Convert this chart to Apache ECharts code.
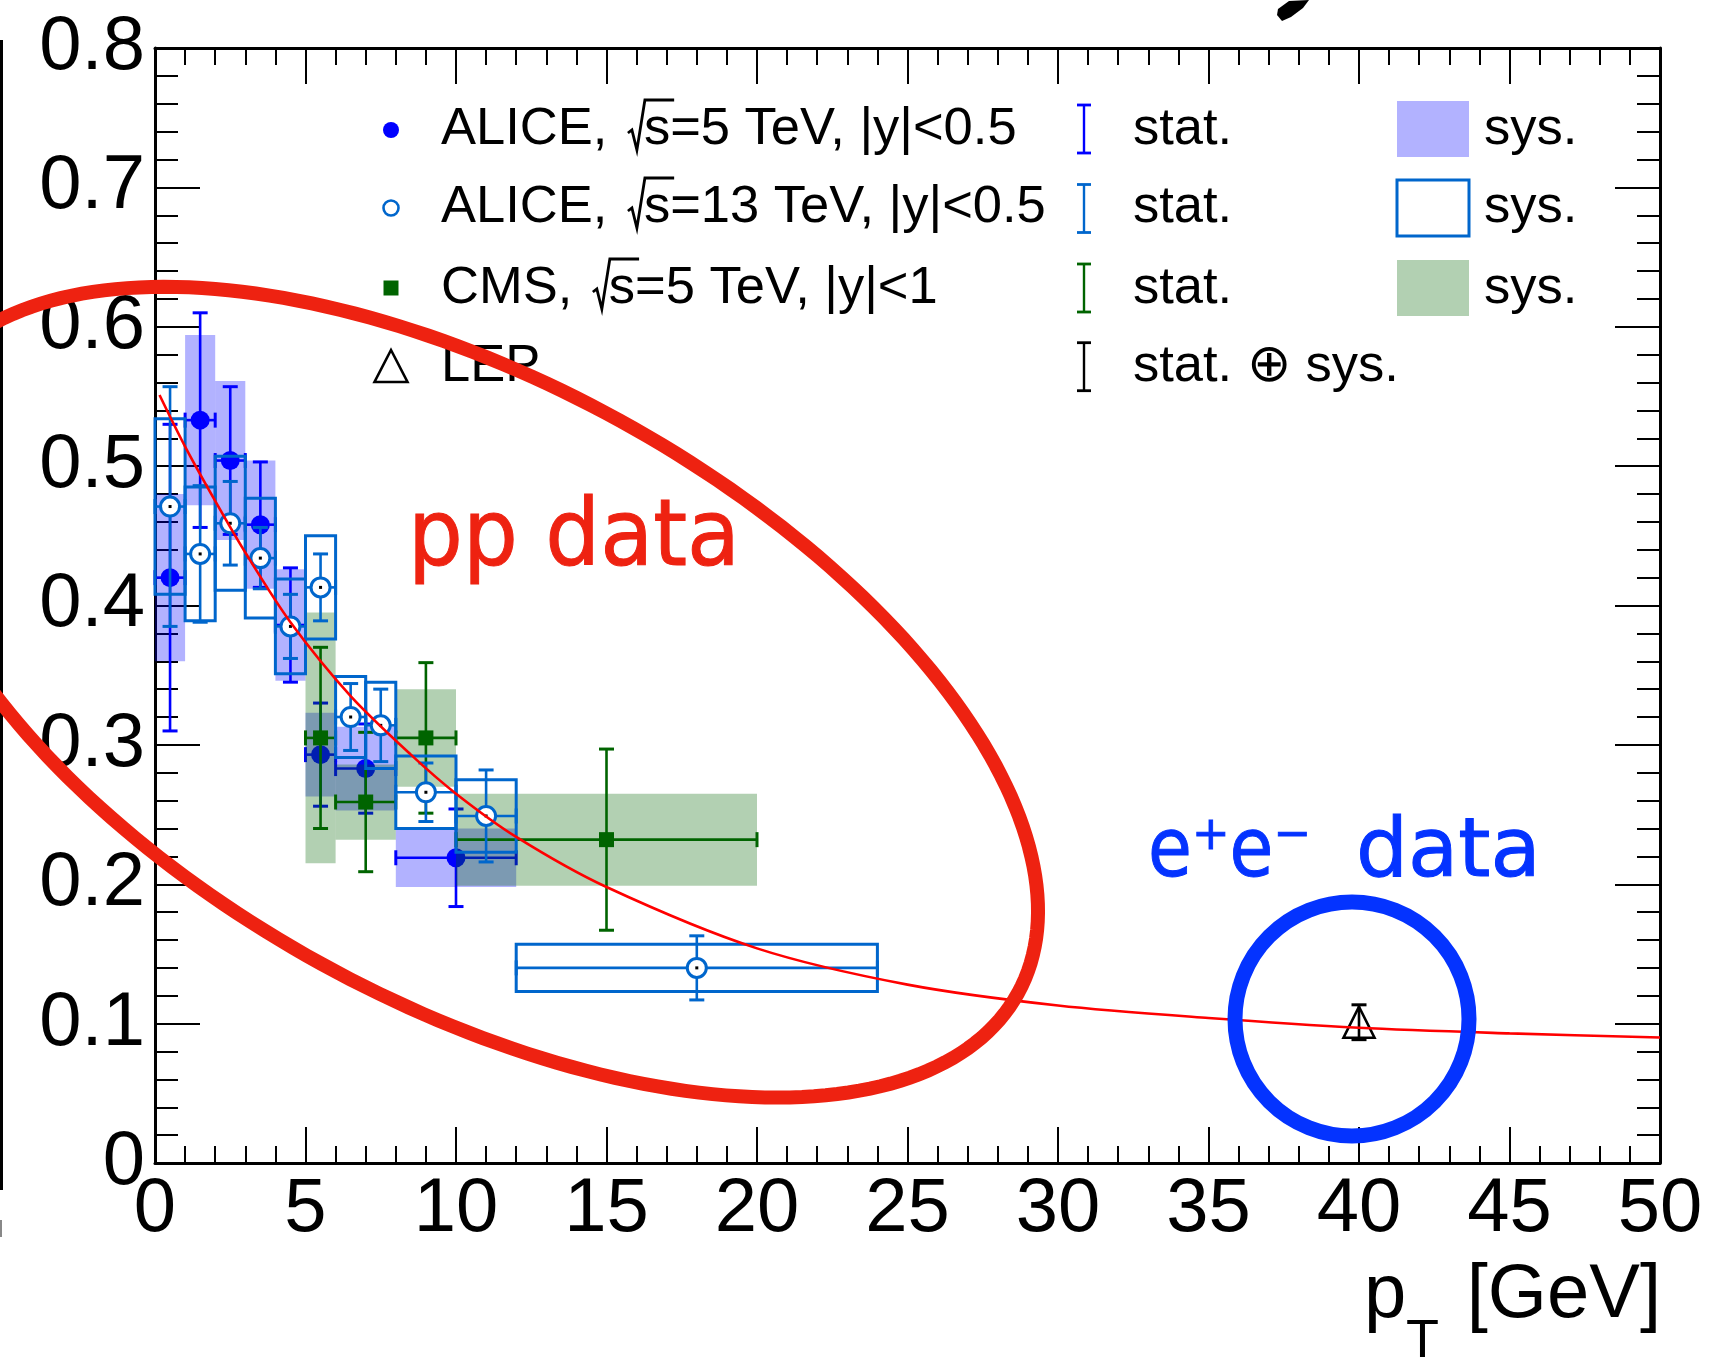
<!DOCTYPE html>
<html>
<head>
<meta charset="utf-8">
<script src="https://cdn.jsdelivr.net/npm/echarts@6/dist/echarts.min.js"></script>
<style>
html, body { margin: 0; padding: 0; background: #fff; }
#chart { width: 1716px; height: 1369px; }
</style>
</head>
<body>
<div id="chart"></div>
<script>
// ALICE, sqrt(s) = 5 TeV, |y| < 0.5
const alice5Pt   = [0.5, 1.5, 2.5, 3.5, 4.5, 5.5, 7, 10];
const alice5Bins = [0, 1, 2, 3, 4, 5, 6, 8, 12];
const alice5Val  = [0.420, 0.533, 0.504, 0.458, 0.386, 0.293, 0.283, 0.219];
const alice5Stat = [0.110, 0.077, 0.053, 0.045, 0.041, 0.037, 0.032, 0.035];
const alice5Sys  = [0.060, 0.061, 0.057, 0.046, 0.040, 0.030, 0.030, 0.021];

// ALICE, sqrt(s) = 13 TeV, |y| < 0.5
const alice13Pt   = [0.5, 1.5, 2.5, 3.5, 4.5, 5.5, 6.5, 7.5, 9, 11, 18];
const alice13Bins = [0, 1, 2, 3, 4, 5, 6, 7, 8, 10, 12, 24];
const alice13Val  = [0.471, 0.437, 0.459, 0.434, 0.385, 0.413, 0.320, 0.314, 0.266, 0.249, 0.140];
const alice13Stat = [0.086, 0.049, 0.030, 0.022, 0.023, 0.024, 0.024, 0.026, 0.021, 0.033, 0.023];
const alice13Sys  = [0.063, 0.048, 0.048, 0.043, 0.034, 0.037, 0.029, 0.031, 0.026, 0.026, 0.017];

// CMS, sqrt(s) = 5 TeV, |y| < 1
const cmsPt   = [5.5, 7, 9, 15];
const cmsBins = [5, 6, 8, 10, 20];
const cmsVal  = [0.305, 0.259, 0.305, 0.232];
const cmsStat = [0.065, 0.050, 0.054, 0.065];
const cmsSys  = [0.090, 0.027, 0.035, 0.033];

// LEP (e+e-), stat (+) sys combined
const lepPt  = [40];
const lepVal = [0.101];
const lepErr = [0.0125];

// Fit curve through the pp data
const fitPt  = [0.15, 1, 2, 3, 4.5, 6.5, 8.5, 10, 12, 15, 20, 25, 30, 35, 40, 45, 50];
const fitVal = [0.551, 0.514, 0.475, 0.438, 0.388, 0.335, 0.293, 0.265, 0.234, 0.198, 0.154, 0.128, 0.113, 0.104, 0.097, 0.093, 0.090];

// Axis ticks
const xTicks = { min: 0, max: 50, interval: 5 };
const yTicks = { min: 0, max: 0.8, interval: 0.1 };

const FONT = '"Liberation Sans", Arial, Helvetica, sans-serif';
const HAND = '"DejaVu Sans", sans-serif';
const C5 = '#0000ff', C13 = '#0066cc', CCMS = '#006400';

function rows(pt, bins, val, stat, sys) {
  return pt.map((p, i) => [p, val[i], bins[i], bins[i + 1], stat[i], sys[i]]);
}

function boxRender(style) {
  return function (params, api) {
    const y = api.value(1), s = api.value(5);
    const p0 = api.coord([api.value(2), y + s]);
    const p1 = api.coord([api.value(3), y - s]);
    return {
      type: 'rect',
      shape: { x: p0[0], y: p0[1], width: p1[0] - p0[0], height: p1[1] - p0[1] },
      style: style
    };
  };
}

function ln(x1, y1, x2, y2, color, w) {
  return { type: 'line', shape: { x1, y1, x2, y2 }, style: { stroke: color, lineWidth: w } };
}

function pointRender(color, marker, withX) {
  return function (params, api) {
    const x = api.value(0), y = api.value(1), st = api.value(4);
    const c = api.coord([x, y]);
    const t = api.coord([x, y + st]);
    const b = api.coord([x, y - st]);
    const cap = 7.5, w = 2.6;
    const ch = [
      ln(t[0], t[1], b[0], b[1], color, w),
      ln(t[0] - cap, t[1], t[0] + cap, t[1], color, w + 0.4),
      ln(b[0] - cap, b[1], b[0] + cap, b[1], color, w + 0.4)
    ];
    if (withX) {
      const l = api.coord([api.value(2), y]);
      const r = api.coord([api.value(3), y]);
      ch.push(ln(l[0], l[1], r[0], r[1], color, w));
      ch.push(ln(l[0], l[1] - cap, l[0], l[1] + cap, color, w + 0.4));
      ch.push(ln(r[0], r[1] - cap, r[0], r[1] + cap, color, w + 0.4));
    }
    marker(c, color).forEach(m => ch.push(m));
    return { type: 'group', children: ch };
  };
}

const filledCircle = (c, color) => [{ type: 'circle', shape: { cx: c[0], cy: c[1], r: 9.5 }, style: { fill: color } }];
const openCircle = (c, color) => [
  { type: 'circle', shape: { cx: c[0], cy: c[1], r: 9.5 }, style: { fill: '#fff', stroke: color, lineWidth: 3 } },
  { type: 'rect', shape: { x: c[0] - 1.5, y: c[1] - 1.5, width: 3, height: 3 }, style: { fill: '#000' } }
];
const filledSquare = (c, color) => [{ type: 'rect', shape: { x: c[0] - 7.5, y: c[1] - 7.5, width: 15, height: 15 }, style: { fill: color } }];
const openTriangle = (c) => [{
  type: 'polygon',
  shape: { points: [[c[0], c[1] - 15.5], [c[0] + 15.5, c[1] + 15.5], [c[0] - 15.5, c[1] + 15.5]] },
  style: { fill: 'none', stroke: '#000', lineWidth: 2.6 }
}];

const alice5Rows  = rows(alice5Pt, alice5Bins, alice5Val, alice5Stat, alice5Sys);
const alice13Rows = rows(alice13Pt, alice13Bins, alice13Val, alice13Stat, alice13Sys);
const cmsRows     = rows(cmsPt, cmsBins, cmsVal, cmsStat, cmsSys);
const lepRows     = lepPt.map((p, i) => [p, lepVal[i], p, p, lepErr[i], 0]);

function custom(data, render, z) {
  return { type: 'custom', data, renderItem: render, encode: { x: 0, y: 1 }, z, silent: true, clip: false };
}

// ---- text helpers ----
const measureCtx = document.createElement('canvas').getContext('2d');
function textWidth(str, size, family) {
  measureCtx.font = size + 'px ' + (family || FONT);
  return measureCtx.measureText(str).width;
}
// place text by its alphabetic baseline
function txt(str, x, baseline, size, opts) {
  opts = opts || {};
  const el = {
    type: 'text', z: opts.z || 50,
    x: x, y: baseline - 0.34 * size,
    style: Object.assign({
      text: str, fontSize: size, fontFamily: opts.family || FONT,
      fill: opts.color || '#000', align: opts.align || 'left', verticalAlign: 'middle'
    }, opts.extra || {})
  };
  if (opts.scaleX) { el.scaleX = opts.scaleX; }
  return el;
}

// legend entry label with a drawn square-root sign over "s"
const LEG = 52.5;
function sqrtLabel(x, base, pre, post) {
  const rx = x + textWidth(pre, LEG) + 6;
  const ws = textWidth('s', LEG);
  const top = base - 47;
  return [
    txt(pre, x, base, LEG),
    { type: 'polyline', z: 50, shape: { points: [[rx, base - 14], [rx + 4, base - 17], [rx + 9, base + 3], [rx + 17, top], [rx + 17 + ws + 3, top]] },
      style: { stroke: '#000', lineWidth: 2.8, fill: 'none' } },
    txt('s' + post, rx + 16, base, LEG)
  ];
}

const legendBase = [147, 225, 306, 384];
const legendMid = [129, 208.5, 288, 366.7];
const graphics = [];

// left edge rule and small mark
graphics.push({ type: 'rect', z: 50, shape: { x: 0, y: 40, width: 3, height: 1150 }, style: { fill: '#000' } });
graphics.push({ type: 'rect', z: 50, shape: { x: 0, y: 1220, width: 2, height: 17 }, style: { fill: '#888' } });

// legend markers
graphics.push({ type: 'circle', z: 50, shape: { cx: 391, cy: 130, r: 8 }, style: { fill: C5 } });
graphics.push({ type: 'circle', z: 50, shape: { cx: 391, cy: 208, r: 7.5 }, style: { fill: '#fff', stroke: C13, lineWidth: 2.6 } });
graphics.push({ type: 'rect', z: 50, shape: { x: 383.5, y: 280.5, width: 15, height: 15 }, style: { fill: CCMS } });
graphics.push({ type: 'polygon', z: 50, shape: { points: [[391, 350], [407.5, 382], [374.5, 382]] }, style: { fill: 'none', stroke: '#000', lineWidth: 2.6 } });

// legend labels
sqrtLabel(441, legendBase[0], 'ALICE, ', '=5 TeV, |y|<0.5').forEach(g => graphics.push(g));
sqrtLabel(441, legendBase[1], 'ALICE, ', '=13 TeV, |y|<0.5').forEach(g => graphics.push(g));
sqrtLabel(441, legendBase[2], 'CMS, ', '=5 TeV, |y|<1').forEach(g => graphics.push(g));
graphics.push(txt('LEP', 441, legendBase[3], LEG));

// legend stat icons
[C5, C13, CCMS, '#000'].forEach((col, i) => {
  const m = legendMid[i];
  graphics.push({ type: 'line', z: 50, shape: { x1: 1084, y1: m - 24, x2: 1084, y2: m + 24 }, style: { stroke: col, lineWidth: 2.4 } });
  graphics.push({ type: 'line', z: 50, shape: { x1: 1077, y1: m - 24, x2: 1091, y2: m - 24 }, style: { stroke: col, lineWidth: 2.8 } });
  graphics.push({ type: 'line', z: 50, shape: { x1: 1077, y1: m + 24, x2: 1091, y2: m + 24 }, style: { stroke: col, lineWidth: 2.8 } });
  graphics.push(txt(i < 3 ? 'stat.' : 'stat. \u2295 sys.', 1133, legendBase[i], LEG));
});

// legend sys icons
graphics.push({ type: 'rect', z: 50, shape: { x: 1397, y: 101, width: 72, height: 56 }, style: { fill: 'rgba(0,0,255,0.3)' } });
graphics.push({ type: 'rect', z: 50, shape: { x: 1397, y: 180, width: 72, height: 56 }, style: { fill: 'none', stroke: C13, lineWidth: 3 } });
graphics.push({ type: 'rect', z: 50, shape: { x: 1397, y: 260, width: 72, height: 56 }, style: { fill: 'rgba(0,100,0,0.3)' } });
[0, 1, 2].forEach(i => graphics.push(txt('sys.', 1484, legendBase[i], LEG)));

// x-axis title: p_T [GeV]
graphics.push(txt('p', 1364, 1322, 76));
graphics.push(txt('T', 1406, 1360, 54));
graphics.push(txt('[GeV]', 1661, 1322, 76, { align: 'right' }));

// hand-drawn annotations
const ell = [];
const ecx = 470.6, ecy = 692.2, ea = 624.7, eb = 309.9, eth = 28.8 * Math.PI / 180;
for (let k = 0; k < 240; k++) {
  const t = 2 * Math.PI * k / 240;
  const ex = ea * Math.cos(t), ey = eb * Math.sin(t);
  ell.push([ecx + ex * Math.cos(eth) - ey * Math.sin(eth), ecy + ex * Math.sin(eth) + ey * Math.cos(eth)]);
}
graphics.push({ type: 'polygon', z: 100, shape: { points: ell, smooth: 0 }, style: { fill: 'none', stroke: '#ee2211', lineWidth: 14 } });
graphics.push({ type: 'circle', z: 100, shape: { cx: 1352, cy: 1019, r: 117 }, style: { fill: 'none', stroke: '#0433ff', lineWidth: 15 } });
graphics.push(txt('pp data', 408, 572, 93, { family: HAND, color: '#ee2211', z: 100, scaleX: 0.93,
  extra: { stroke: '#ee2211', lineWidth: 1 } }));
graphics.push(txt('e\u207Ae\u207B', 1148, 883, 82, { family: HAND, color: '#0433ff', z: 100, scaleX: 0.87,
  extra: { stroke: '#0433ff', lineWidth: 1 } }));
graphics.push(txt('data', 1356, 883, 82, { family: HAND, color: '#0433ff', z: 100,
  extra: { stroke: '#0433ff', lineWidth: 1 } }));
graphics.push({ type: 'polygon', z: 100, shape: { points: [[1278, 9], [1289, 1], [1309, 0], [1303, 8], [1291, 17], [1282, 21], [1277, 15]] }, style: { fill: '#000' } });

const axisCommon = {
  axisLine: { show: true, onZero: false, lineStyle: { color: '#000', width: 3 } },
  splitLine: { show: false },
  minorSplitLine: { show: false }
};

function makeAxis(type, position, ticks, majorLen, minorLen, showLabels) {
  return Object.assign({
    type: 'value', position, min: ticks.min, max: ticks.max, interval: ticks.interval,
    axisTick: { show: true, inside: true, length: majorLen, lineStyle: { color: '#000', width: 2 } },
    minorTick: { show: true, splitNumber: 5, length: minorLen, lineStyle: { color: '#000', width: 2 } },
    axisLabel: showLabels
      ? { show: true, fontSize: 76, fontFamily: FONT, color: '#000', margin: type === 'x' ? 9 : 10 }
      : { show: false }
  }, axisCommon);
}

const chart = echarts.init(document.getElementById('chart'), null, { renderer: 'canvas' });
chart.setOption({
  animation: false,
  backgroundColor: '#fff',
  grid: { left: 155, top: 48, width: 1505, height: 1115, outerBoundsMode: 'none' },
  xAxis: [
    makeAxis('x', 'bottom', xTicks, 36, 17, true),
    makeAxis('x', 'top', xTicks, 36, 17, false)
  ],
  yAxis: [
    makeAxis('y', 'left', yTicks, 45, 23, true),
    makeAxis('y', 'right', yTicks, 45, 23, false)
  ],
  series: [
    custom(alice5Rows, boxRender({ fill: 'rgba(0,0,255,0.3)' }), 3),
    custom(alice5Rows, pointRender(C5, filledCircle, true), 4),
    custom(cmsRows, boxRender({ fill: 'rgba(0,100,0,0.3)' }), 5),
    custom(cmsRows, pointRender(CCMS, filledSquare, true), 6),
    custom(alice13Rows, boxRender({ fill: 'none', stroke: C13, lineWidth: 3 }), 7),
    custom(alice13Rows, pointRender(C13, openCircle, true), 8),
    custom(lepRows, pointRender('#000', openTriangle, false), 9),
    {
      type: 'line', z: 10, silent: true,
      data: fitPt.map((p, i) => [p, fitVal[i]]),
      smooth: 0.3, showSymbol: false, symbol: 'none',
      lineStyle: { color: '#ff0000', width: 2.6 }
    }
  ],
  graphic: graphics
});
</script>
</body>
</html>
